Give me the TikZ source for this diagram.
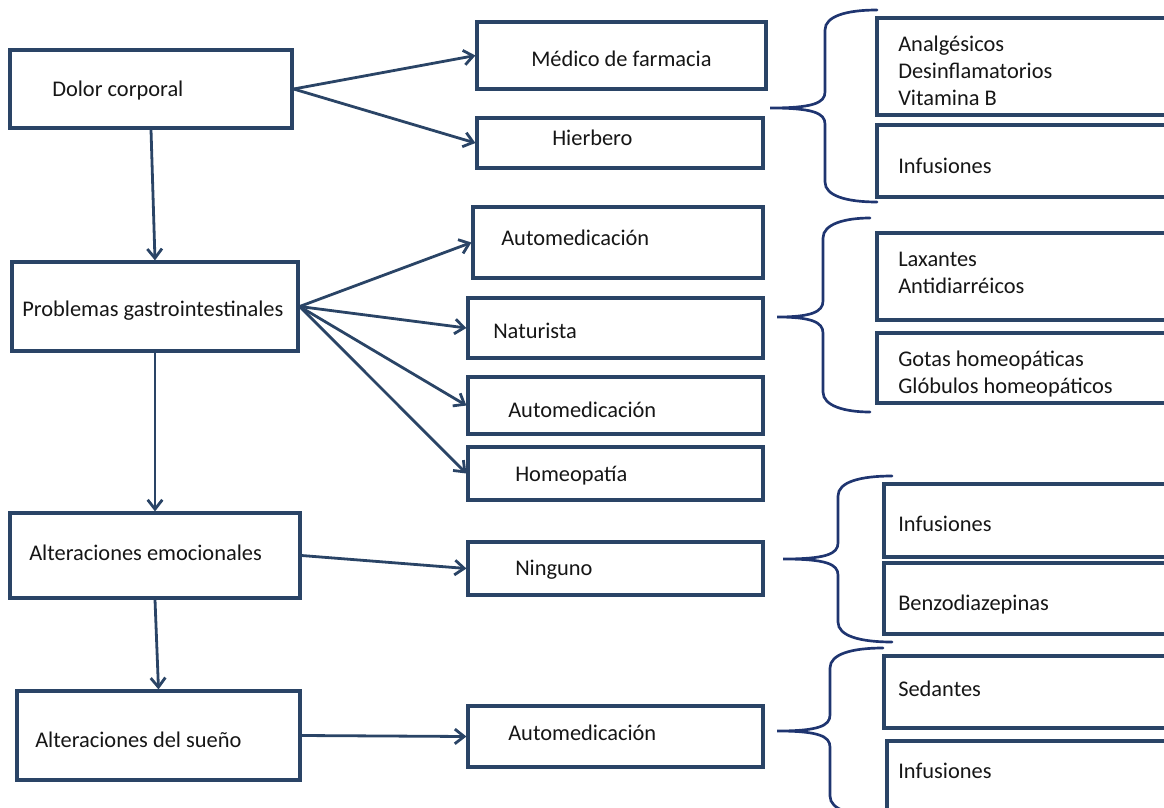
\documentclass[tikz,border=0pt]{standalone}
\usepackage{fontspec}
\setmainfont{Carlito}
\usetikzlibrary{arrows.meta,fit}
\definecolor{boxline}{HTML}{2A4466}
\definecolor{braceline}{HTML}{1F3570}
\definecolor{ink}{HTML}{161616}
\tikzset{
  boxst/.style={draw=boxline, line width=2.4pt, inner sep=0pt, fill=white},
  lbl/.style={anchor=base west, inner sep=0pt, text=ink, font=\fontsize{16.8}{20.25}\selectfont},
  lblm/.style={lbl, text width=260pt, align=flush left},
  linkst/.style={draw=boxline, line width=2.1pt, -{Straight Barb[length=7pt,width=11pt]}},
  bracest/.style={draw=braceline, line width=2pt, line cap=round}
}
% curly brace: end x, top y, spine x, tip x, tip y, bottom y
\newcommand\drawbrace[6]{%
  \draw[bracest] (#1,#2) .. controls ({#3+22},#2) and (#3,{#2+6}) .. (#3,{#2+20})
    -- (#3,{#5-16}) .. controls (#3,{#5-5}) and ({#3-12},#5) .. (#4,#5)
    .. controls ({#3-12},#5) and (#3,{#5+5}) .. (#3,{#5+16})
    -- (#3,{#6-20}) .. controls (#3,{#6-6}) and ({#3+22},#6) .. (#1,#6);}
\begin{document}
\begin{tikzpicture}[x=0.75pt,y=-0.75pt]
\useasboundingbox (0,0) rectangle (1164,807);
\clip (0,0) rectangle (1164,807);

% symptoms
\node[boxst, fit={(10,50)(292,128)}] (dolor) {};
\node[boxst, fit={(12,262)(298,351)}] (gastro) {};
\node[boxst, fit={(10,513)(300,598)}] (emoc) {};
\node[boxst, fit={(17,691)(300,780)}] (sueno) {};

% who is consulted
\node[boxst, fit={(477,22)(766,89)}] (medico) {};
\node[boxst, fit={(477,118)(763,168)}] (hierbero) {};
\node[boxst, fit={(473,207)(763,278)}] (auto1) {};
\node[boxst, fit={(468,298)(763,358)}] (naturista) {};
\node[boxst, fit={(468,377)(763,434)}] (auto2) {};
\node[boxst, fit={(468,447)(763,500)}] (homeo) {};
\node[boxst, fit={(468,542)(763,595)}] (ninguno) {};
\node[boxst, fit={(468,706)(763,767)}] (auto3) {};

% remedies
\node[boxst, fit={(877,18)(1180,115)}] (r1) {};
\node[boxst, fit={(877,125)(1180,197)}] (r2) {};
\node[boxst, fit={(877,233)(1180,320)}] (r3) {};
\node[boxst, fit={(877,333)(1180,403)}] (r4) {};
\node[boxst, fit={(884,484)(1180,557)}] (r5) {};
\node[boxst, fit={(884,563)(1180,634)}] (r6) {};
\node[boxst, fit={(884,656)(1180,728)}] (r7) {};
\node[boxst, fit={(887,741)(1180,820)}] (r8) {};

% labels
\node[lbl] (dolor-t) at (52,96) {Dolor corporal};
\node[lbl] (gastro-t) at (22,316) {Problemas gastrointestinales};
\node[lbl] (emoc-t) at (29,560) {Alteraciones emocionales};
\node[lbl] (sueno-t) at (35,747) {Alteraciones del sueño};
\node[lbl] (medico-t) at (531,66) {Médico de farmacia};
\node[lbl] (hierbero-t) at (552,145) {Hierbero};
\node[lbl] (auto1-t) at (501,245) {Automedicación};
\node[lbl] (naturista-t) at (493,338) {Naturista};
\node[lbl] (auto2-t) at (508,417) {Automedicación};
\node[lbl] (homeo-t) at (515,481) {Homeopatía};
\node[lbl] (ninguno-t) at (515,575) {Ninguno};
\node[lbl] (auto3-t) at (508,740) {Automedicación};
\node[lblm] (r1-t) at (898,51) {Analgésicos\\Desinflamatorios\\Vitamina B};
\node[lbl] (r2-t) at (898,173) {Infusiones};
\node[lblm] (r3-t) at (898,266) {Laxantes\\Antidiarréicos};
\node[lblm] (r4-t) at (898,366) {Gotas homeopáticas\\Glóbulos homeopáticos};
\node[lbl] (r5-t) at (898,531) {Infusiones};
\node[lbl] (r6-t) at (898,610) {Benzodiazepinas};
\node[lbl] (r7-t) at (898,696) {Sedantes};
\node[lbl] (r8-t) at (898,778) {Infusiones};

% connectors
\draw[linkst] (dolor.east) -- (medico.west);
\draw[linkst] (dolor.east) -- (hierbero.west);
\draw[linkst] (dolor.south) -- (gastro.north);
\draw[linkst] (gastro.east) -- (auto1.west);
\draw[linkst] (gastro.east) -- (naturista.west);
\draw[linkst] (gastro.east) -- (auto2.west);
\draw[linkst] (gastro.east) -- (homeo.west);
\draw[linkst] (gastro.south) -- (emoc.north);
\draw[linkst] (emoc.east) -- (ninguno.west);
\draw[linkst] (emoc.south) -- (sueno.north);
\draw[linkst] (sueno.east) -- (auto3.west);

% braces grouping the remedies
\drawbrace{877}{10}{825}{770}{108}{202}
\drawbrace{870}{218}{823}{777}{317}{412}
\drawbrace{892}{476}{838}{783}{559}{642}
\drawbrace{883}{648}{830}{777}{731}{816}
\end{tikzpicture}
\end{document}
